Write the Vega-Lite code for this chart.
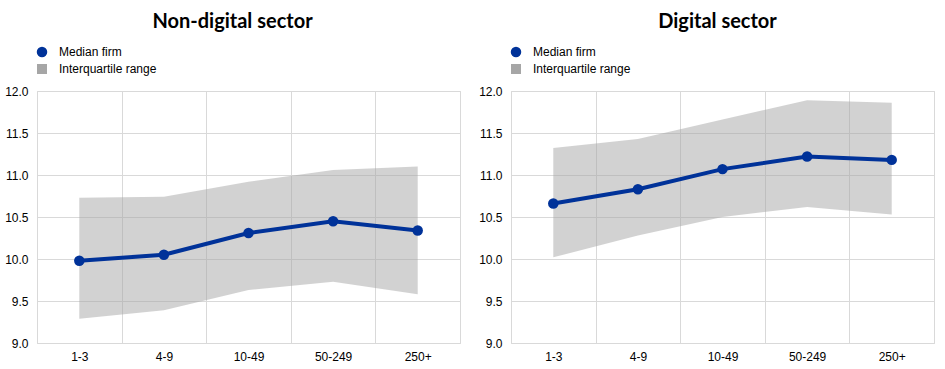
{
  "$schema": "https://vega.github.io/schema/vega-lite/v6.json",
  "padding": {"left": 4, "top": 11, "right": 0, "bottom": 0},
  "background": "white",
  "datasets": {
    "rows": [
      {"sector": "Non-digital", "size": "1-3", "median": 9.98, "q1": 9.29, "q3": 10.73},
      {"sector": "Non-digital", "size": "4-9", "median": 10.05, "q1": 9.39, "q3": 10.74},
      {"sector": "Non-digital", "size": "10-49", "median": 10.31, "q1": 9.63, "q3": 10.92},
      {"sector": "Non-digital", "size": "50-249", "median": 10.45, "q1": 9.73, "q3": 11.06},
      {"sector": "Non-digital", "size": "250+", "median": 10.34, "q1": 9.58, "q3": 11.10},
      {"sector": "Digital", "size": "1-3", "median": 10.66, "q1": 10.02, "q3": 11.32},
      {"sector": "Digital", "size": "4-9", "median": 10.83, "q1": 10.28, "q3": 11.43},
      {"sector": "Digital", "size": "10-49", "median": 11.07, "q1": 10.50, "q3": 11.66},
      {"sector": "Digital", "size": "50-249", "median": 11.22, "q1": 10.62, "q3": 11.89},
      {"sector": "Digital", "size": "250+", "median": 11.18, "q1": 10.53, "q3": 11.86}
    ]
  },
  "config": {
    "font": "Liberation Sans",
    "view": {"stroke": "#d9d9d9", "strokeWidth": 1},
    "axis": {
      "domain": false,
      "ticks": false,
      "grid": true,
      "gridColor": "#d9d9d9",
      "gridWidth": 1,
      "labelFont": "Liberation Sans",
      "labelFontSize": 12,
      "labelColor": "#000000",
      "title": null
    },
    "legend": {
      "labelFont": "Liberation Sans",
      "labelFontSize": 12,
      "labelColor": "#000000",
      "padding": 0,
      "labelOffset": 11,
      "symbolOpacity": 1,
      "title": null
    },
    "title": {
      "font": "Lato",
      "fontSize": 20,
      "fontWeight": "bold",
      "color": "#000000",
      "anchor": "middle"
    }
  },
  "spacing": 17,
  "resolve": {"legend": {"color": "independent", "fill": "independent"}},
  "hconcat": [
    {
      "title": {"text": "Non-digital sector", "dx": -16, "offset": 14},
      "width": 423,
      "height": 252,
      "data": {"name": "rows"},
      "transform": [{"filter": "datum.sector === 'Non-digital'"}],
      "encoding": {
        "x": {
          "field": "size",
          "type": "ordinal",
          "sort": ["1-3", "4-9", "10-49", "50-249", "250+"],
          "scale": {"paddingInner": 0, "paddingOuter": 0},
          "axis": {"labelAngle": 0, "tickBand": "extent", "labelPadding": 8}
        }
      },
      "layer": [
        {
          "mark": {"type": "area", "opacity": 0.5},
          "encoding": {
            "y": {"field": "q1", "type": "quantitative", "scale": {"domain": [9, 12], "nice": false, "zero": false},
              "axis": {"values": [9, 9.5, 10, 10.5, 11, 11.5, 12], "format": ".1f", "labelPadding": 9}},
            "y2": {"field": "q3"},
            "fill": {"datum": "Interquartile range", "type": "nominal",
              "scale": {"domain": ["Interquartile range"], "range": ["#a6a6a6"]},
              "legend": {"orient": "none", "legendX": -1, "legendY": -28, "symbolType": "square", "symbolSize": 100}}
          }
        },
        {
          "mark": {"type": "line", "strokeWidth": 4},
          "encoding": {
            "y": {"field": "median", "type": "quantitative"},
            "color": {"datum": "Median firm", "type": "nominal",
              "scale": {"domain": ["Median firm"], "range": ["#003299"]},
              "legend": {"orient": "none", "legendX": -1, "legendY": -45, "symbolType": "circle", "symbolSize": 110, "symbolStrokeWidth": 0}}
          }
        },
        {
          "mark": {"type": "point", "filled": true, "size": 110, "opacity": 1},
          "encoding": {
            "y": {"field": "median", "type": "quantitative"},
            "color": {"datum": "Median firm", "type": "nominal"}
          }
        }
      ]
    },
    {
      "title": {"text": "Digital sector", "dx": -5, "offset": 14},
      "width": 423,
      "height": 252,
      "data": {"name": "rows"},
      "transform": [{"filter": "datum.sector === 'Digital'"}],
      "encoding": {
        "x": {
          "field": "size",
          "type": "ordinal",
          "sort": ["1-3", "4-9", "10-49", "50-249", "250+"],
          "scale": {"paddingInner": 0, "paddingOuter": 0},
          "axis": {"labelAngle": 0, "tickBand": "extent", "labelPadding": 8}
        }
      },
      "layer": [
        {
          "mark": {"type": "area", "opacity": 0.5},
          "encoding": {
            "y": {"field": "q1", "type": "quantitative", "scale": {"domain": [9, 12], "nice": false, "zero": false},
              "axis": {"values": [9, 9.5, 10, 10.5, 11, 11.5, 12], "format": ".1f", "labelPadding": 9}},
            "y2": {"field": "q3"},
            "fill": {"datum": "Interquartile range", "type": "nominal",
              "scale": {"domain": ["Interquartile range"], "range": ["#a6a6a6"]},
              "legend": {"orient": "none", "legendX": -1, "legendY": -28, "symbolType": "square", "symbolSize": 100}}
          }
        },
        {
          "mark": {"type": "line", "strokeWidth": 4},
          "encoding": {
            "y": {"field": "median", "type": "quantitative"},
            "color": {"datum": "Median firm", "type": "nominal",
              "scale": {"domain": ["Median firm"], "range": ["#003299"]},
              "legend": {"orient": "none", "legendX": -1, "legendY": -45, "symbolType": "circle", "symbolSize": 110, "symbolStrokeWidth": 0}}
          }
        },
        {
          "mark": {"type": "point", "filled": true, "size": 110, "opacity": 1},
          "encoding": {
            "y": {"field": "median", "type": "quantitative"},
            "color": {"datum": "Median firm", "type": "nominal"}
          }
        }
      ]
    }
  ]
}
